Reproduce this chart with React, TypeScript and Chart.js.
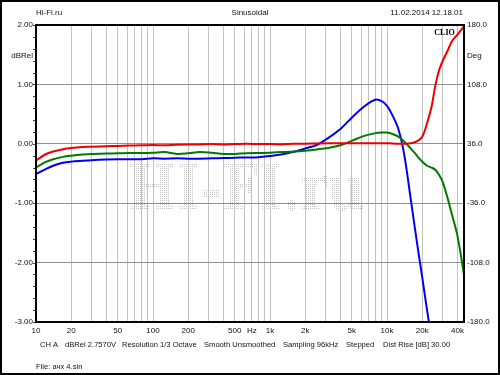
import React, { useEffect, useRef } from 'react';
import { Chart, registerables } from 'chart.js';

Chart.register(...registerables);

// ---- data ----
const freqs = [10, 12, 14, 17, 20, 25, 30, 40, 50, 63, 80, 100, 125, 160, 200, 250, 315, 400, 500, 630, 800, 1000, 1250, 1600, 2000, 2500, 3150, 4000, 5000, 6300, 8000, 9000, 10000, 11000, 12500, 14000, 16000, 18000, 20000, 22000, 24000, 26000, 28000, 30000, 33000, 36000, 40000, 45500];

const redDb = [-0.28, -0.18, -0.13, -0.09, -0.07, -0.055, -0.05, -0.04, -0.035, -0.03, -0.025, -0.02, -0.025, -0.015, -0.01, -0.01, -0.005, -0.01, -0.005, 0.0, -0.005, -0.005, -0.01, 0.0, 0.0, 0.005, 0.01, 0.01, 0.01, 0.01, 0.01, 0.01, 0.01, 0.005, 0.0, 0.0, 0.01, 0.04, 0.12, 0.35, 0.62, 1.0, 1.25, 1.4, 1.57, 1.73, 1.84, 1.98];

const greenDb = [-0.40, -0.31, -0.26, -0.22, -0.20, -0.18, -0.17, -0.165, -0.16, -0.155, -0.155, -0.15, -0.14, -0.17, -0.16, -0.14, -0.15, -0.17, -0.17, -0.16, -0.155, -0.15, -0.14, -0.13, -0.115, -0.095, -0.07, -0.025, 0.05, 0.13, 0.18, 0.19, 0.19, 0.17, 0.12, 0.04, -0.08, -0.2, -0.3, -0.37, -0.4, -0.44, -0.53, -0.65, -0.92, -1.2, -1.55, -2.2];

const blueDb = [-0.51, -0.43, -0.37, -0.32, -0.30, -0.285, -0.275, -0.265, -0.26, -0.26, -0.26, -0.245, -0.25, -0.245, -0.25, -0.25, -0.245, -0.24, -0.235, -0.23, -0.225, -0.205, -0.18, -0.135, -0.08, -0.02, 0.1, 0.25, 0.44, 0.62, 0.745, 0.72, 0.64, 0.5, 0.25, -0.17, -0.95, -1.65, -2.25, -2.8, -3.3, -3.8, null, null, null, null, null, null];

const xGridTicks = [10, 20, 30, 40, 50, 60, 70, 80, 90, 100, 200, 300, 400, 500, 600, 700, 800, 900, 1000, 2000, 3000, 4000, 5000, 6000, 7000, 8000, 9000, 10000, 20000, 30000, 40000];
const xTickValues = [10, 20, 50, 100, 200, 500, 700, 1000, 2000, 5000, 10000, 20000, 40000];
const xTickTexts = ['10', '20', '50', '100', '200', '500', 'Hz', '1k', '2k', '5k', '10k', '20k', '40k'];

const headerTexts = ['Hi-Fi.ru', 'Sinusoidal', '11.02.2014 12.18.01'];
const footerTexts = ['CH A', 'dBRel 2.7570V', 'Resolution 1/3 Octave', 'Smooth Unsmoothed', 'Sampling 96kHz', 'Stepped', 'Dist Rise [dB] 30.00'];
const fileText = 'File: ачх 4.sin';
const leftUnit = 'dBRel';
const rightUnit = 'Deg';
const brandText = 'CLIO';
const watermarkText = 'HI-FI.ru';

const FONT = '"Liberation Sans", Arial, sans-serif';

function drawWatermark(ctx: CanvasRenderingContext2D) {
  const W = 260, H = 64;
  const off = document.createElement('canvas');
  off.width = W; off.height = H;
  const o = off.getContext('2d')!;
  o.font = 'bold 64px "DejaVu Serif"';
  o.textBaseline = 'alphabetic';
  const m = o.measureText(watermarkText);
  o.save();
  o.scale(237 / m.width, 1);
  o.fillStyle = '#000';
  o.fillText(watermarkText, 0, 52);
  o.restore();
  const img = o.getImageData(0, 0, W, H).data;
  ctx.save();
  ctx.fillStyle = '#c4c4c4';
  for (let y = 0; y < H; y += 2) {
    for (let x = 0; x < W; x += 2) {
      const a = img[(y * W + x) * 4 + 3];
      if (a > 110) ctx.fillRect(128 + x, 158 + y, 1, 1);
    }
  }
  ctx.restore();
}

const decorPlugin = {
  id: 'decor',
  beforeDraw(chart: any) {
    const ctx = chart.ctx;
    ctx.save();
    ctx.fillStyle = '#fff';
    ctx.fillRect(0, 0, chart.width, chart.height);
    ctx.restore();
  },
  beforeDatasetsDraw(chart: any) {
    drawWatermark(chart.ctx);
  },
  afterDraw(chart: any) {
    const ctx: CanvasRenderingContext2D = chart.ctx;
    const a = chart.chartArea;
    const yS = chart.scales.y;
    ctx.save();
    // minor ticks on left axis
    ctx.strokeStyle = '#444';
    ctx.lineWidth = 1;
    for (let i = 0; i <= 25; i++) {
      const v = -3 + i * 0.2;
      const py = Math.round(yS.getPixelForValue(v)) + 0.5;
      ctx.beginPath();
      ctx.moveTo(a.left - 3, py);
      ctx.lineTo(a.left, py);
      ctx.stroke();
    }
    // plot frame
    ctx.strokeStyle = '#000';
    ctx.lineWidth = 2;
    ctx.strokeRect(a.left, a.top, a.right - a.left, a.bottom - a.top);
    // texts
    ctx.fillStyle = '#111';
    ctx.textBaseline = 'middle';
    ctx.font = `8px ${FONT}`;
    ctx.textAlign = 'left';
    ctx.fillText(headerTexts[0], 36, 13);
    ctx.textAlign = 'center';
    ctx.fillText(headerTexts[1], 250, 13);
    ctx.textAlign = 'right';
    ctx.fillText(headerTexts[2], 463, 13);
    ctx.fillText(leftUnit, 33, 56);
    ctx.textAlign = 'left';
    ctx.fillText(rightUnit, 467, 56);
    // footer
    ctx.font = `7.6px ${FONT}`;
    const fx = [40, 65, 122, 204, 283, 346, 383];
    footerTexts.forEach((t, i) => ctx.fillText(t, fx[i], 345));
    ctx.fillText(fileText, 36, 367);
    // brand
    ctx.font = 'bold 8px "Liberation Serif", "Times New Roman", serif';
    ctx.textAlign = 'center';
    ctx.fillStyle = '#000';
    ctx.fillText(brandText, 444.5, 33);
    // outer frame
    ctx.strokeStyle = '#000';
    ctx.lineWidth = 2;
    ctx.strokeRect(1, 1, chart.width - 2, chart.height - 2);
    ctx.restore();
  },
};

export default function App() {
  const ref = useRef<HTMLCanvasElement | null>(null);
  useEffect(() => {
    if (!ref.current) return;
    const mk = (arr: (number | null)[]) => freqs.map((f, i) => ({ x: f, y: arr[i] }));
    const tickFont = { family: FONT, size: 8 };
    const line = { borderWidth: 2, pointRadius: 0, tension: 0.35, fill: false, yAxisID: 'y' };
    const chart = new Chart(ref.current, {
      type: 'line',
      data: {
        datasets: [
          { label: 'red', data: mk(redDb) as any, borderColor: '#ee0000', ...line },
          { label: 'green', data: mk(greenDb) as any, borderColor: '#007a00', ...line },
          { label: 'blue', data: mk(blueDb) as any, borderColor: '#0000ee', ...line },
        ],
      },
      options: {
        responsive: false,
        animation: false,
        events: [],
        layout: { padding: { top: 25, left: 0, right: 0, bottom: 0 } },
        plugins: { legend: { display: false }, tooltip: { enabled: false }, title: { display: false } },
        scales: {
          x: {
            type: 'logarithmic',
            min: 10,
            max: 45500,
            afterBuildTicks: (s: any) => { s.ticks = xGridTicks.map((v) => ({ value: v })); },
            afterFit: (s: any) => { s.height = 53; },
            ticks: {
              autoSkip: false,
              maxRotation: 0,
              minRotation: 0,
              padding: 4,
              color: '#111',
              font: tickFont,
              callback: (v: any) => { const i = xTickValues.indexOf(Number(v)); return i >= 0 ? xTickTexts[i] : ''; },
            },
            grid: { color: '#c2c2c2', lineWidth: 1, drawTicks: false },
            border: { display: false },
          },
          y: {
            position: 'left',
            min: -3,
            max: 2,
            afterFit: (s: any) => { s.width = 36; },
            ticks: { stepSize: 1, padding: 3, color: '#111', font: tickFont, callback: (v: any) => Number(v).toFixed(2) },
            grid: { color: '#8f8f8f', lineWidth: 1, drawTicks: false },
            border: { display: false },
          },
          y2: {
            position: 'right',
            min: -180,
            max: 180,
            afterFit: (s: any) => { s.width = 36; },
            ticks: { stepSize: 72, padding: 3, color: '#111', font: tickFont, callback: (v: any) => Number(v).toFixed(1) },
            grid: { drawOnChartArea: false, drawTicks: false },
            border: { display: false },
          },
        },
      } as any,
      plugins: [decorPlugin],
    });
    return () => chart.destroy();
  }, []);
  return (
    <div style={{ position: 'fixed', left: 0, top: 0, width: 500, height: 375, background: '#fff' }}>
      <canvas ref={ref} width={500} height={375} style={{ display: 'block', width: 500, height: 375 }} />
    </div>
  );
}
